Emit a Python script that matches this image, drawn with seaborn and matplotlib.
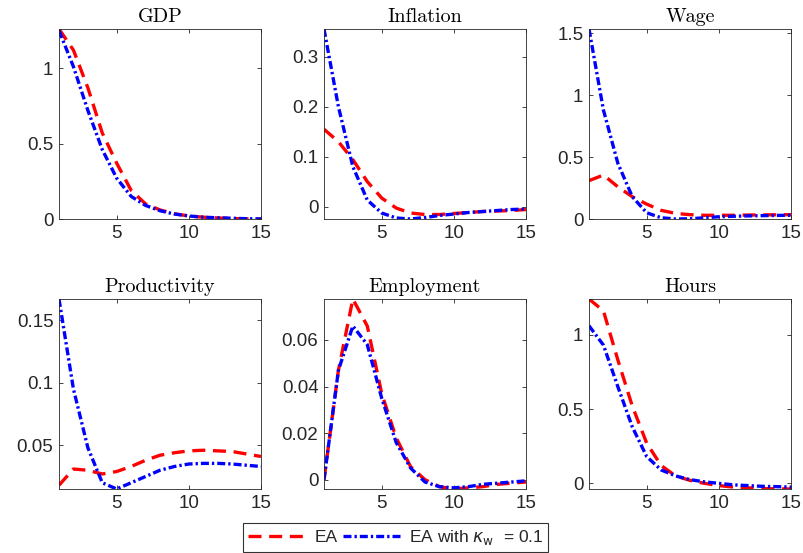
import numpy as np
import pandas as pd
import matplotlib
matplotlib.use("Agg")
import matplotlib.pyplot as plt
import seaborn as sns
from matplotlib.ticker import FuncFormatter

# Impulse responses, quarters 1..15
horizon = list(range(1, 16))
titles = ["GDP", "Inflation", "Wage", "Productivity", "Employment", "Hours"]

gdp_ea = [1.26, 1.12, 0.87, 0.57, 0.37, 0.19, 0.10, 0.06, 0.035, 0.02, 0.012, 0.007, 0.003, 0.001, 0.0]
gdp_kw = [1.25, 1.01, 0.72, 0.46, 0.27, 0.15, 0.09, 0.055, 0.033, 0.02, 0.012, 0.008, 0.005, 0.002, 0.0]

infl_ea = [0.155, 0.13, 0.094, 0.05, 0.017, -0.003, -0.013, -0.016, -0.016, -0.014, -0.012, -0.010, -0.009, -0.008, -0.006]
infl_kw = [0.356, 0.20, 0.08, 0.013, -0.013, -0.023, -0.025, -0.022, -0.018, -0.015, -0.012, -0.010, -0.008, -0.006, -0.005]

wage_ea = [0.31, 0.355, 0.26, 0.18, 0.12, 0.07, 0.045, 0.035, 0.03, 0.03, 0.03, 0.032, 0.033, 0.034, 0.035]
wage_kw = [1.535, 0.88, 0.45, 0.18, 0.05, 0.01, 0.0, 0.002, 0.01, 0.018, 0.022, 0.025, 0.027, 0.029, 0.03]

prod_ea = [0.018, 0.031, 0.030, 0.027, 0.029, 0.033, 0.038, 0.042, 0.044, 0.0455, 0.046, 0.0455, 0.045, 0.043, 0.041]
prod_kw = [0.167, 0.095, 0.048, 0.020, 0.015, 0.020, 0.025, 0.030, 0.033, 0.035, 0.0355, 0.0355, 0.035, 0.034, 0.033]

empl_ea = [0.0, 0.047, 0.0776, 0.066, 0.037, 0.018, 0.0056, 0.0, -0.003, -0.004, -0.0035, -0.003, -0.002, -0.0015, -0.001]
empl_kw = [0.0, 0.047, 0.066, 0.058, 0.035, 0.016, 0.005, -0.001, -0.003, -0.0035, -0.003, -0.002, -0.0015, -0.001, -0.0005]

hours_ea = [1.24, 1.16, 0.83, 0.52, 0.27, 0.12, 0.05, 0.02, 0.0, -0.015, -0.025, -0.030, -0.035, -0.037, -0.038]
hours_kw = [1.06, 0.93, 0.65, 0.38, 0.18, 0.09, 0.05, 0.025, 0.01, 0.0, -0.01, -0.015, -0.02, -0.022, -0.025]

yticks = [
    [0, 0.5, 1],
    [0, 0.1, 0.2, 0.3],
    [0, 0.5, 1, 1.5],
    [0.05, 0.1, 0.15],
    [0, 0.02, 0.04, 0.06],
    [0, 0.5, 1],
]

series_ea = [gdp_ea, infl_ea, wage_ea, prod_ea, empl_ea, hours_ea]
series_kw = [gdp_kw, infl_kw, wage_kw, prod_kw, empl_kw, hours_kw]

label_ea = "EA"
label_kw = r"EA with $\kappa_{\mathrm{w}}$  = 0.1"

sns.set_theme(style="ticks")
plt.rcParams["font.family"] = ["Liberation Sans", "DejaVu Sans"]
plt.rcParams["mathtext.fontset"] = "dejavusans"

W, H = 804, 553
fig = plt.figure(figsize=(W / 100, H / 100), dpi=100)

col_left = [59, 324, 589]
row_top = [29, 299]
ax_w, ax_h = 202, 190

edge = "#262626"
lw = 2.4
handles = None
for i, title in enumerate(titles):
    r, c = divmod(i, 3)
    left = col_left[c] / W
    bottom = (H - row_top[r] - ax_h) / H
    ax = fig.add_axes([left, bottom, ax_w / W, ax_h / H])

    df = pd.DataFrame({
        "t": horizon * 2,
        "v": series_ea[i] + series_kw[i],
        "case": [label_ea] * len(horizon) + [label_kw] * len(horizon),
    })
    sns.lineplot(data=df, x="t", y="v", hue="case", style="case",
                 palette={label_ea: "#ff0000", label_kw: "#0000ff"},
                 dashes={label_ea: (3.9, 2.3), label_kw: (2.4, 0.9, 0.7, 0.9)},
                 linewidth=lw, ax=ax, legend=(i == 0))
    for ln in ax.lines:
        ln.set_dash_capstyle("butt")
    if i == 0:
        handles, labels = ax.get_legend_handles_labels()
        ax.get_legend().remove()

    lo = min(min(series_ea[i]), min(series_kw[i]))
    hi = max(max(series_ea[i]), max(series_kw[i]))
    ax.set_xlim(1, 15)
    ax.set_ylim(lo, hi)
    ax.set_xticks([5, 10, 15])
    ax.set_yticks(yticks[i])
    ax.yaxis.set_major_formatter(FuncFormatter(lambda v, p: f"{v:g}"))
    ax.set_xlabel("")
    ax.set_ylabel("")
    ax.tick_params(direction="in", top=True, right=True, length=3,
                   width=0.6, colors=edge, labelsize=13.5, pad=4)
    for sp in ax.spines.values():
        sp.set_visible(True)
        sp.set_linewidth(0.6)
        sp.set_color(edge)
    ax.set_title(title, fontfamily="cmr10", fontsize=14.5, color="black", pad=5)

leg = fig.legend(handles, [label_ea, label_kw], loc="upper center",
                 bbox_to_anchor=(0.492, (H - 523) / H), ncol=2,
                 frameon=True, fancybox=False, handlelength=3.5,
                 columnspacing=0.3, handletextpad=0.3, borderpad=0.3,
                 borderaxespad=0.0, fontsize=12.5)
leg.get_frame().set_edgecolor("black")
leg.get_frame().set_linewidth(0.8)
for h in leg.get_lines():
    h.set_linewidth(lw)
    h.set_dash_capstyle("butt")

fig.savefig("out.png", dpi=100)
